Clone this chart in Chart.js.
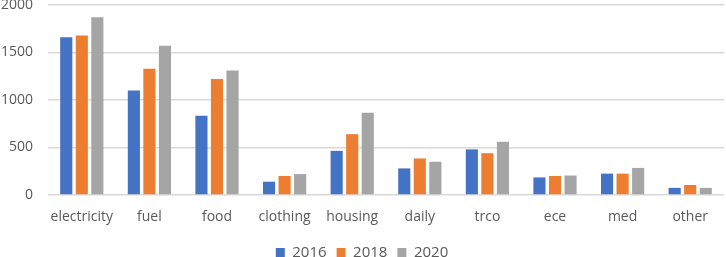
<!DOCTYPE html>
<html>
<head>
<meta charset="utf-8">
<script src="https://cdn.jsdelivr.net/npm/chart.js@4"></script>
<style>
  html, body { margin: 0; padding: 0; background: #fff; }
  #wrap { width: 726px; height: 257px; }
</style>
</head>
<body>
<div id="wrap"><canvas id="chart"></canvas></div>
<script>
const categories = ["electricity", "fuel", "food", "clothing", "housing", "daily", "trco", "ece", "med", "other"];
const values2016 = [1660, 1100, 835, 140, 465, 280, 480, 185, 225, 75];
const values2018 = [1680, 1330, 1220, 200, 640, 385, 440, 200, 225, 105];
const values2020 = [1870, 1570, 1310, 220, 865, 350, 560, 205, 285, 75];
const yTicks = [0, 500, 1000, 1500, 2000];

const font = "'Open Sans', 'Liberation Sans', sans-serif";

const ctx = document.querySelector("#chart");
const myChart = new Chart(ctx, {
  type: "bar",
  data: {
    labels: categories,
    datasets: [
      { label: "2016", data: values2016, backgroundColor: "#4472C4" },
      { label: "2018", data: values2018, backgroundColor: "#ED7D31" },
      { label: "2020", data: values2020, backgroundColor: "#A5A5A5" },
    ],
  },
  options: {
    responsive: true,
    maintainAspectRatio: false,
    animation: false,
    layout: { padding: { top: 5, right: 2, left: 0, bottom: -13 } },
    datasets: {
      bar: { categoryPercentage: 0.69, barPercentage: 0.78 },
    },
    plugins: {
      legend: {
        position: "bottom",
        labels: {
          boxWidth: 9,
          boxHeight: 9,
          padding: 10,
          color: "#595959",
          font: { family: font, size: 15 },
        },
      },
      tooltip: { enabled: false },
    },
    scales: {
      x: {
        grid: { display: false },
        border: { display: false },
        ticks: { color: "#595959", font: { family: font, size: 14 }, padding: 6, maxRotation: 0, autoSkip: false },
        afterFit: (axis) => {
          axis.height = 40;
          axis.paddingLeft = 0;
          axis.paddingRight = 0;
        },
      },
      y: {
        min: 0,
        max: 2000,
        afterBuildTicks: (axis) => { axis.ticks = yTicks.map((v) => ({ value: v })); },
        grid: { color: "#d9d9d9", lineWidth: 1.5, drawTicks: false },
        border: { display: false },
        ticks: { color: "#595959", font: { family: font, size: 14 }, padding: 15, callback: (v) => String(v) },
        afterFit: (axis) => {
          axis.width = 48;
          axis.paddingTop = 0;
          axis.paddingBottom = 0;
        },
      },
    },
  },
});
</script>
</body>
</html>
